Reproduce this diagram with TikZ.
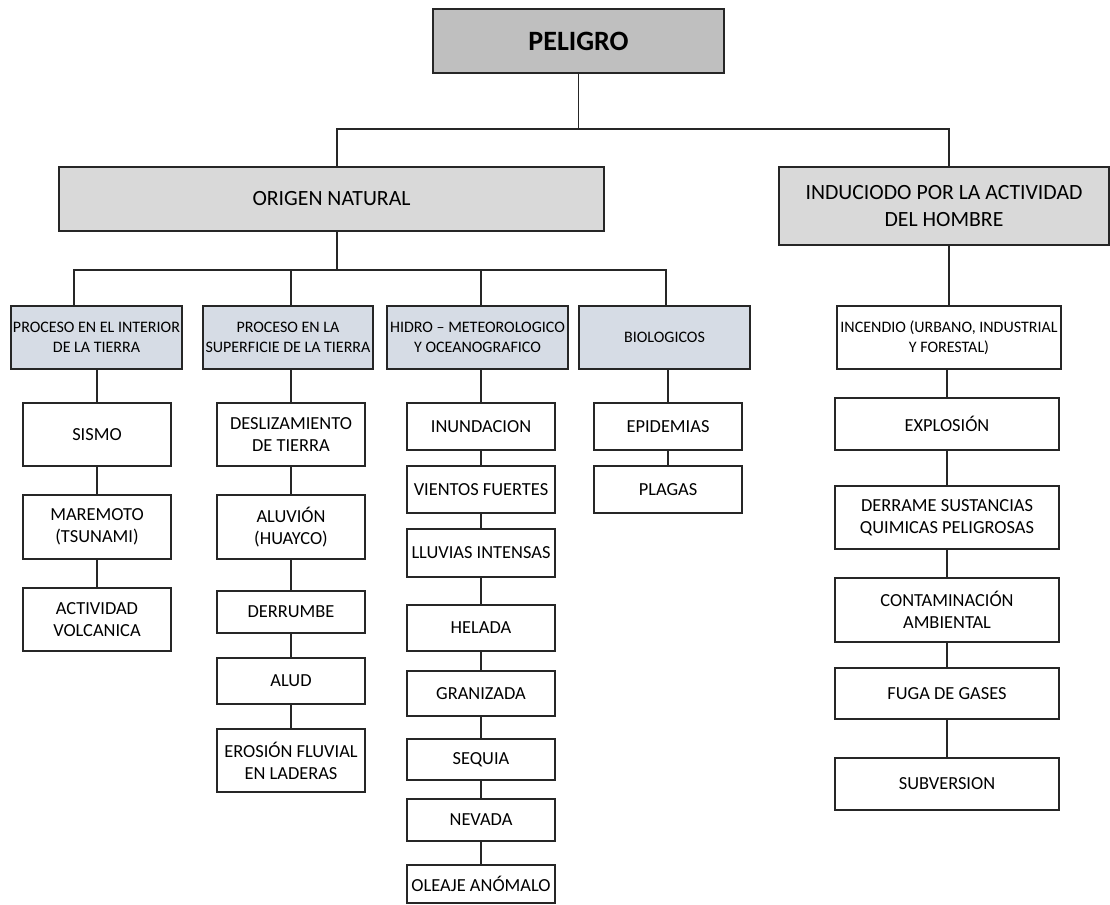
\documentclass[tikz,border=0pt]{standalone}
\usepackage{fontspec}
\setmainfont{Carlito}
\definecolor{topgray}{RGB}{191,191,191}
\definecolor{midgray}{RGB}{217,217,217}
\definecolor{catblue}{RGB}{214,220,229}
\definecolor{ink}{RGB}{38,38,38}
\tikzset{
  boxbase/.style={draw=ink, line width=0.9pt, inner sep=1pt, align=center, text=black},
  topbox/.style={boxbase, fill=topgray, font=\fontsize{21}{25}\selectfont\bfseries},
  midbox/.style={boxbase, fill=midgray, font=\fontsize{16.3}{20}\selectfont},
  catbox/.style={boxbase, fill=catblue, font=\fontsize{12}{15}\selectfont},
  subbox/.style={boxbase, fill=white, font=\fontsize{12}{15}\selectfont},
  leafbox/.style={boxbase, fill=white, font=\fontsize{13.8}{16.5}\selectfont},
  conn/.style={draw=ink, line width=0.9pt}
}
% \mybox{style}{name}{x1}{y1}{x2}{y2}{text}
\newcommand{\mybox}[7]{%
  \node[#1, minimum width={(#5-#3)*0.75pt}, minimum height={(#6-#4)*0.75pt}]
    (#2) at ({(#3+#5)/2},{(#4+#6)/2}) {#7};}
\begin{document}
\begin{tikzpicture}[x=0.75pt,y=-0.75pt]
\useasboundingbox (0,0) rectangle (1110,904);
% top levels
\mybox{topbox}{peligro}{433}{9}{724}{73}{PELIGRO}
\mybox{midbox}{origen}{59}{167}{604}{231}{ORIGEN NATURAL}
\mybox{midbox}{inducido}{779}{167}{1109}{245}{INDUCIODO POR LA ACTIVIDAD\\DEL HOMBRE}
% categories
\mybox{catbox}{c1}{11}{306}{182}{369}{PROCESO EN EL INTERIOR\\DE LA TIERRA}
\mybox{catbox}{c2}{203}{306}{373}{369}{PROCESO EN LA\\SUPERFICIE DE LA TIERRA}
\mybox{catbox}{c3}{387}{306}{568}{369}{HIDRO -- METEOROLOGICO\\Y OCEANOGRAFICO}
\mybox{catbox}{c4}{579}{306}{750}{369}{BIOLOGICOS}
\mybox{subbox}{inc}{837}{306}{1061}{369}{INCENDIO (URBANO, INDUSTRIAL\\Y FORESTAL)}
% column 1
\mybox{leafbox}{a1}{23}{403}{171}{466}{SISMO}
\mybox{leafbox}{a2}{23}{495}{171}{559}{MAREMOTO\\(TSUNAMI)}
\mybox{leafbox}{a3}{23}{588}{171}{651}{ACTIVIDAD\\VOLCANICA}
% column 2
\mybox{leafbox}{b1}{217}{403}{365}{466}{DESLIZAMIENTO\\DE TIERRA}
\mybox{leafbox}{b2}{217}{495}{365}{559}{ALUVIÓN\\(HUAYCO)}
\mybox{leafbox}{b3}{217}{591}{365}{633}{DERRUMBE}
\mybox{leafbox}{b4}{217}{658}{365}{704}{ALUD}
\mybox{leafbox}{b5}{217}{729}{365}{792}{EROSIÓN FLUVIAL\\EN LADERAS}
% column 3
\mybox{leafbox}{h1}{407}{403}{555}{450}{INUNDACION}
\mybox{leafbox}{h2}{407}{466}{555}{513}{VIENTOS FUERTES}
\mybox{leafbox}{h3}{407}{529}{555}{577}{LLUVIAS INTENSAS}
\mybox{leafbox}{h4}{407}{605}{555}{651}{HELADA}
\mybox{leafbox}{h5}{407}{671}{555}{716}{GRANIZADA}
\mybox{leafbox}{h6}{407}{739}{555}{780}{SEQUIA}
\mybox{leafbox}{h7}{407}{799}{555}{841}{NEVADA}
\mybox{leafbox}{h8}{407}{865}{555}{903}{OLEAJE ANÓMALO}
% column 4
\mybox{leafbox}{d1}{594}{403}{742}{450}{EPIDEMIAS}
\mybox{leafbox}{d2}{594}{466}{742}{513}{PLAGAS}
% column 5
\mybox{leafbox}{e1}{835}{398}{1059}{450}{EXPLOSIÓN}
\mybox{leafbox}{e2}{835}{486}{1059}{549}{DERRAME SUSTANCIAS\\QUIMICAS PELIGROSAS}
\mybox{leafbox}{e3}{835}{578}{1059}{642}{CONTAMINACIÓN\\AMBIENTAL}
\mybox{leafbox}{e4}{835}{668}{1059}{719}{FUGA DE GASES}
\mybox{leafbox}{e5}{835}{758}{1059}{810}{SUBVERSION}
% connectors
\coordinate (oL) at (337,129);
\coordinate (iR) at (949,129);
\coordinate (k1) at (74,270);
\coordinate (k4) at (666,270);
\draw[conn] (peligro.south) -- (peligro.south |- oL);
\draw[conn] (oL |- origen.north) -- (oL) -- (iR) -- (iR |- inducido.north);
\draw[conn] (oL |- origen.south) -- (oL |- k1);
\draw[conn] (k1 |- c1.north) -- (k1) -- (k4) -- (k4 |- c4.north);
\draw[conn] (b1.north |- k1) -- (b1.north |- c2.north);
\draw[conn] (h1.north |- k1) -- (h1.north |- c3.north);
\draw[conn] (iR |- inducido.south) -- (iR |- inc.north);
% chains
\draw[conn] (a1.north |- c1.south) -- (a1.north) (a1.south) -- (a2.north) (a2.south) -- (a3.north);
\draw[conn] (b1.north |- c2.south) -- (b1.north) (b1.south) -- (b2.north) (b2.south) -- (b3.north)
  (b3.south) -- (b4.north) (b4.south) -- (b5.north);
\draw[conn] (h1.north |- c3.south) -- (h1.north) (h1.south) -- (h2.north) (h2.south) -- (h3.north)
  (h3.south) -- (h4.north) (h4.south) -- (h5.north) (h5.south) -- (h6.north)
  (h6.south) -- (h7.north) (h7.south) -- (h8.north);
\draw[conn] (d1.north |- c4.south) -- (d1.north) (d1.south) -- (d2.north);
\draw[conn] (e1.north |- inc.south) -- (e1.north) (e1.south) -- (e2.north) (e2.south) -- (e3.north)
  (e3.south) -- (e4.north) (e4.south) -- (e5.north);
\end{tikzpicture}
\end{document}
